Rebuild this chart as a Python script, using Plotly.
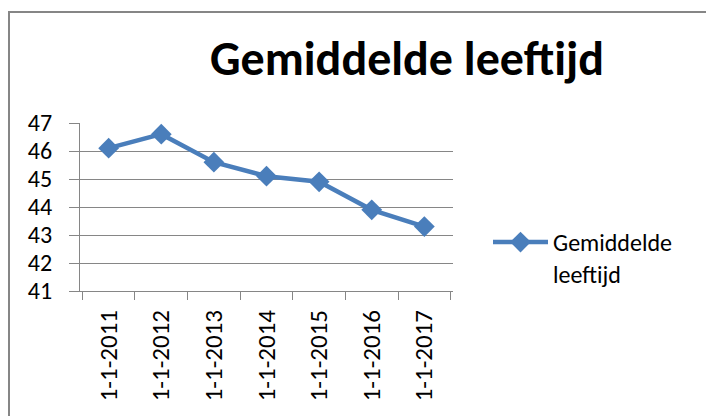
import plotly.graph_objects as go

categories = ["1-1-2011", "1-1-2012", "1-1-2013", "1-1-2014", "1-1-2015", "1-1-2016", "1-1-2017"]
values = [46.1, 46.6, 45.6, 45.1, 44.9, 43.9, 43.3]
series_name = "Gemiddelde<br>leeftijd"
title_text = "Gemiddelde leeftijd"
y_ticks = [41, 42, 43, 44, 45, 46, 47]

grey = "#868686"
blue = "#4A7EBB"
font_family = "Carlito, Calibri, Lato, 'Open Sans', sans-serif"

fig = go.Figure()
fig.add_trace(go.Scatter(
    x=categories, y=values, name=series_name, mode="lines+markers",
    line=dict(color=blue, width=4.5),
    marker=dict(symbol="diamond", size=16, color=blue),
))

fig.update_layout(
    width=706, height=416,
    margin=dict(l=80, r=253, t=123, b=125),
    paper_bgcolor="white", plot_bgcolor="white",
    font=dict(family=font_family, color="black", size=24),
    showlegend=True,
    title=dict(text="<b>" + title_text + "</b>", x=407 / 706, xanchor="center",
               y=1 - 58 / 416, yanchor="middle",
               font=dict(size=48, family=font_family, color="black")),
    legend=dict(x=(488 - 80) / 373, y=(291 - 220) / 168, xanchor="left", yanchor="top",
                font=dict(size=24), bgcolor="rgba(0,0,0,0)", itemwidth=55, valign="top"),
    xaxis=dict(type="category", tickson="boundaries", showgrid=False,
               showline=True, linecolor=grey, linewidth=1,
               ticks="outside", ticklen=8, tickcolor=grey, tickwidth=1,
               tickangle=-90, tickfont=dict(size=25), ticklabelstandoff=8, fixedrange=True),
    yaxis=dict(range=[41, 47], tickvals=y_ticks, showgrid=True, gridcolor=grey, gridwidth=1,
               showline=True, linecolor=grey, linewidth=1, zeroline=False,
               ticks="outside", ticklen=10, tickcolor=grey, tickwidth=1,
               tickfont=dict(size=24), ticklabelstandoff=12, fixedrange=True),
)

# outer chart frame
fig.add_shape(type="rect", xref="paper", yref="paper",
              x0=(9 - 80) / 373, x1=(720 - 80) / 373,
              y0=(291 - 430) / 168, y1=(291 - 12) / 168,
              line=dict(color=grey, width=2), fillcolor="rgba(0,0,0,0)", layer="below")

fig.write_html("out.html", config={"displayModeBar": False},
               post_script="document.body.style.margin='0px';")
